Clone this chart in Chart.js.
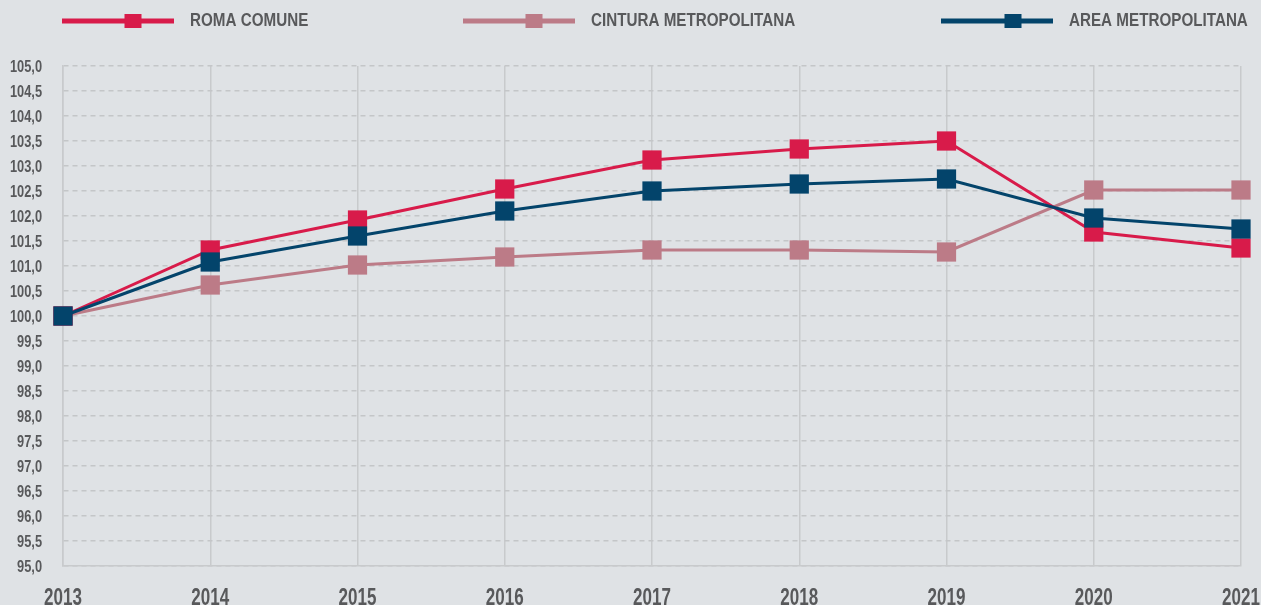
<!DOCTYPE html>
<html>
<head>
<meta charset="utf-8">
<script src="https://cdn.jsdelivr.net/npm/chart.js@4.4.1/dist/chart.umd.min.js"></script>
<style>
  html, body { margin: 0; padding: 0; background: #dfe2e5; }
  #wrap { position: relative; width: 1261px; height: 605px; }
</style>
</head>
<body>
<div id="wrap"><canvas id="chart" width="1261" height="605"></canvas></div>
<script>
// data
const years = ['2013', '2014', '2015', '2016', '2017', '2018', '2019', '2020', '2021'];
const romaComune = [100.0, 101.32, 101.92, 102.54, 103.12, 103.34, 103.50, 101.68, 101.36];
const cinturaMetro = [100.0, 100.62, 101.02, 101.18, 101.32, 101.32, 101.28, 102.52, 102.52];
const areaMetro = [100.0, 101.08, 101.60, 102.10, 102.50, 102.64, 102.74, 101.96, 101.74];

const FONT = "'Liberation Sans', Arial, sans-serif";
const TEXT = '#58595b';
const RED = '#d81b4a';
const PINK = '#bc7b87';
const BLUE = '#03446b';

// the original uses a condensed face, so text is squeezed horizontally
function narrowText(ctx, text, x, y, size, sx, align, baseline) {
    ctx.save();
    ctx.translate(x, y);
    ctx.scale(sx, 1);
    ctx.font = 'bold ' + size + 'px ' + FONT;
    ctx.fillStyle = TEXT;
    ctx.textAlign = align;
    ctx.textBaseline = baseline;
    ctx.fillText(text, 0, 0);
    ctx.restore();
}

// legend and tick labels drawn on the canvas
const labelsPlugin = {
    id: 'labelsPlugin',
    afterDraw(chart) {
        const ctx = chart.ctx;
        const items = [
            { x: 62, marker: 133, label: 'ROMA COMUNE', color: RED },
            { x: 463, marker: 534, label: 'CINTURA METROPOLITANA', color: PINK },
            { x: 941, marker: 1013, label: 'AREA METROPOLITANA', color: BLUE }
        ];
        ctx.save();
        items.forEach(it => {
            ctx.fillStyle = it.color;
            ctx.fillRect(it.x, 18.5, 112, 5);
            ctx.fillRect(it.marker - 8.5, 14, 17, 14);
            narrowText(ctx, it.label, it.x + 128, 26, 18, 0.845, 'left', 'alphabetic');
        });
        ctx.restore();

        const ys = chart.scales.y;
        ys.ticks.forEach(t => {
            const y = ys.getPixelForValue(t.value);
            narrowText(ctx, t.value.toFixed(1).replace('.', ','), 42, y + 1.5, 16, 0.8, 'right', 'middle');
        });
        const xs = chart.scales.x;
        years.forEach((lab, i) => {
            narrowText(ctx, lab, xs.getPixelForTick(i), 605, 23, 0.74, 'center', 'alphabetic');
        });
    }
};

function series(label, data, color, order) {
    return {
        label: label,
        data: data,
        borderColor: color,
        backgroundColor: color,
        borderWidth: 3,
        pointStyle: 'rect',
        pointRadius: 13.6,
        pointHoverRadius: 13.6,
        pointBorderWidth: 0,
        tension: 0,
        clip: false,
        order: order
    };
}

const ctx = document.getElementById('chart').getContext('2d');
new Chart(ctx, {
    type: 'line',
    data: {
        labels: years,
        datasets: [
            series('ROMA COMUNE', romaComune, RED, 1),
            series('CINTURA METROPOLITANA', cinturaMetro, PINK, 2),
            series('AREA METROPOLITANA', areaMetro, BLUE, 0)
        ]
    },
    options: {
        responsive: false,
        animation: false,
        layout: { padding: { top: 66, left: 0, right: 20, bottom: 0 } },
        plugins: {
            legend: { display: false },
            tooltip: { enabled: false }
        },
        scales: {
            x: {
                offset: false,
                afterFit(scale) {
                    scale.height = 39;
                    scale.paddingLeft = 0;
                    scale.paddingRight = 0;
                },
                grid: { color: '#c8cacc', lineWidth: 1.5, drawTicks: false },
                border: { color: '#c8cacc', width: 1.5 },
                ticks: { display: false, autoSkip: false }
            },
            y: {
                min: 95,
                max: 105,
                afterFit(scale) {
                    scale.width = 63;
                    scale.paddingTop = 0;
                    scale.paddingBottom = 0;
                },
                grid: { color: '#c4c6c8', lineWidth: 1.5, drawTicks: false },
                border: { color: '#c8cacc', width: 1.5, dash: [5, 4] },
                ticks: { display: false, stepSize: 0.5 }
            }
        }
    },
    plugins: [labelsPlugin]
});
</script>
</body>
</html>
